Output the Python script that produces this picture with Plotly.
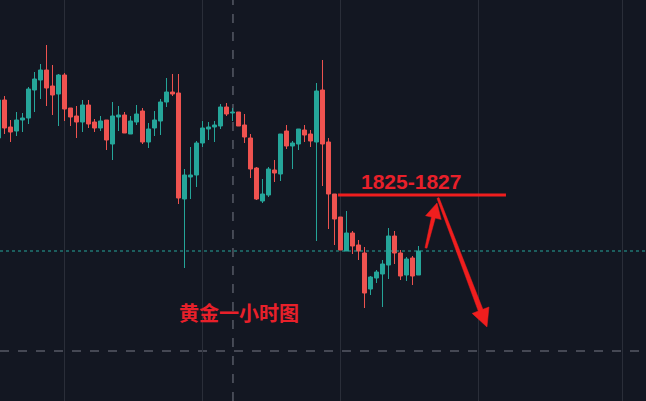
import plotly.graph_objects as go

idx = list(range(71))
opens = [1831.7,1835.5,1832.8,1832.4,1833.5,1833.7,1836.5,1837.5,1838.5,1836.9,
         1836.1,1838.0,1834.7,1833.9,1833.3,1835.0,1833.3,1832.7,1833.5,1831.1,
         1833.8,1834.0,1832.1,1833.3,1834.4,1831.3,1832.7,1833.4,1835.3,1836.3,
         1836.2,1825.6,1827.8,1828.0,1831.2,1832.6,1832.8,1832.9,1834.8,1834.2,
         1834.3,1833.0,1831.7,1828.7,1825.4,1826.0,1828.5,1828.1,1832.4,1830.9,
         1831.1,1832.5,1832.1,1831.3,1836.5,1831.3,1826.1,1823.8,1820.4,1822.2,
         1821.0,1820.2,1816.6,1817.7,1818.1,1819.0,1821.9,1820.2,1818.0,1819.7,
         1818.0]
highs = [1835.7,1835.9,1833.5,1834.3,1834.2,1836.8,1838.3,1839.1,1841.0,1839.0,
         1838.1,1838.2,1834.7,1834.9,1835.5,1835.5,1833.6,1833.9,1833.5,1835.3,
         1834.9,1834.3,1833.9,1835.0,1834.7,1833.2,1834.4,1835.6,1837.7,1838.1,
         1838.1,1828.6,1830.8,1831.4,1833.4,1833.3,1833.4,1835.1,1835.2,1834.7,
         1834.3,1834.1,1832.1,1828.8,1827.6,1828.8,1829.5,1832.1,1833.0,1831.4,
         1832.6,1833.0,1832.5,1837.2,1839.5,1831.7,1826.1,1823.8,1824.4,1822.4,
         1821.5,1820.8,1817.9,1818.5,1819.5,1822.7,1822.4,1820.5,1819.8,1819.9,
         1820.9]
lows = [1831.5,1832.1,1831.3,1831.9,1832.3,1833.1,1834.3,1835.6,1834.9,1834.0,
        1832.9,1833.4,1832.9,1831.7,1832.3,1832.7,1832.3,1832.4,1830.5,1829.5,
        1832.4,1832.2,1832.1,1833.0,1831.1,1830.7,1831.9,1832.0,1834.8,1835.9,
        1825.1,1818.7,1825.6,1826.8,1830.8,1831.5,1831.3,1832.6,1833.9,1833.4,
        1832.9,1831.2,1827.7,1825.5,1825.2,1825.8,1827.3,1827.4,1830.6,1828.6,
        1830.5,1831.3,1830.8,1821.4,1826.9,1822.6,1821.0,1820.5,1820.4,1820.1,
        1819.5,1814.7,1816.0,1817.2,1814.8,1817.6,1819.1,1817.5,1817.4,1817.0,
        1818.0]
closes = [1835.5,1832.7,1832.3,1833.5,1833.7,1836.6,1837.6,1838.5,1836.7,1836.0,
          1838.0,1834.6,1833.8,1833.3,1835.0,1833.1,1832.7,1833.4,1831.5,1833.9,
          1834.0,1832.2,1833.4,1834.1,1831.3,1832.6,1833.5,1835.3,1836.3,1836.1,
          1825.7,1828.0,1828.0,1831.2,1832.7,1832.8,1833.0,1834.8,1834.1,1834.3,
          1832.9,1831.8,1828.6,1825.6,1826.1,1828.6,1828.2,1832.1,1830.9,1831.2,
          1832.6,1832.0,1831.4,1836.4,1831.1,1826.1,1823.6,1820.5,1822.2,1820.9,
          1820.4,1816.2,1817.8,1818.3,1819.1,1821.9,1820.2,1817.9,1819.6,1817.9,
          1820.4]

zone_label = "1825-1827"
zone_price = 1826.0
chart_title = "黄金一小时图"
last_price = closes[-1]
lower_dash_price = 1810.4
crosshair_x = 39.08
grid_x = [11.08, 34.08, 57.08, 80.08, 104.08]

UP = "#26a69a"
DOWN = "#ef5350"
BG = "#131722"
RED = "#f01e1e"
TXT = "#e8202a"


def px2d(px, py):
    return ((px + 1.5) / 6.0, 1845.5 - py / 10.0)


def poly(points):
    pts = [px2d(a, b) for a, b in points]
    return "M " + " L ".join(f"{x:.4f},{y:.4f}" for x, y in pts) + " Z"


colors = [UP if c >= o else DOWN for o, c in zip(opens, closes)]
bases = [min(o, c) for o, c in zip(opens, closes)]
heights = [abs(c - o) for o, c in zip(opens, closes)]

fig = go.Figure()

# wicks
for col in (UP, DOWN):
    wx, wy = [], []
    for i, o, h, l, c in zip(idx, opens, highs, lows, closes):
        if (UP if c >= o else DOWN) == col:
            wx += [i, i, None]
            wy += [l, h, None]
    fig.add_trace(go.Scatter(x=wx, y=wy, mode="lines", line=dict(color=col, width=1),
                             hoverinfo="skip", showlegend=False))

# bodies
fig.add_trace(go.Bar(x=idx, y=heights, base=bases, width=0.667,
                     marker=dict(color=colors, line=dict(color=colors, width=1)),
                     hoverinfo="skip", showlegend=False))

shapes = []
shapes.append(dict(type="line", xref="paper", x0=0, x1=1, yref="y",
                   y0=lower_dash_price, y1=lower_dash_price,
                   line=dict(color="#787b86", width=1, dash="dash"), layer="below"))
shapes.append(dict(type="line", xref="x", x0=crosshair_x, x1=crosshair_x,
                   yref="paper", y0=0, y1=1,
                   line=dict(color="#787b86", width=1, dash="dash"), layer="below"))
shapes.append(dict(type="line", xref="paper", x0=0, x1=1, yref="y",
                   y0=last_price, y1=last_price,
                   line=dict(color=UP, width=1, dash="dot")))
x0, _ = px2d(338, 0)
x1, _ = px2d(506, 0)
shapes.append(dict(type="line", xref="x", x0=x0, x1=x1, yref="y",
                   y0=zone_price, y1=zone_price, line=dict(color=RED, width=3)))
shapes.append(dict(type="path", xref="x", yref="y",
                   path=poly([(425, 247.8), (427, 248.2), (435.3, 218.1), (441.2, 219.5),
                              (437, 203), (425.6, 215.7), (431.5, 217.1)]),
                   fillcolor=RED, line=dict(color=RED, width=0.5)))
shapes.append(dict(type="path", xref="x", yref="y",
                   path=poly([(437, 198.4), (439, 197.6), (482.9, 309.3), (489, 307),
                              (487, 327), (472.2, 313.4), (478.3, 311.1)]),
                   fillcolor=RED, line=dict(color=RED, width=0.5)))

annotations = [
    dict(x=px2d(411.5, 0)[0], y=1845.5 - 18.1, xref="x", yref="y", text=f"<b>{zone_label}</b>",
         showarrow=False, font=dict(family="Liberation Sans, Arial", size=21, color=TXT),
         xanchor="center", yanchor="middle"),
    dict(x=px2d(239, 0)[0], y=1845.5 - 31.2, xref="x", yref="y", text=f"<b>{chart_title}</b>",
         showarrow=False, font=dict(family="Noto Sans CJK SC", size=20, color=TXT),
         xanchor="center", yanchor="middle"),
]

fig.update_layout(
    width=646, height=401,
    margin=dict(l=0, r=0, t=0, b=0),
    paper_bgcolor=BG, plot_bgcolor=BG,
    shapes=shapes, annotations=annotations,
    showlegend=False, barmode="overlay",
    xaxis=dict(range=[0.25, 107.92], tickvals=grid_x, showticklabels=False, showgrid=True,
               gridcolor="#2a2e39", gridwidth=1, zeroline=False, showline=False, ticks=""),
    yaxis=dict(range=[1805.4, 1845.5], showgrid=False, showticklabels=False,
               zeroline=False, showline=False, ticks=""),
)

fig.write_html("out.html", config=dict(displayModeBar=False),
               post_script="document.body.style.margin='0';document.body.style.overflow='hidden';")
